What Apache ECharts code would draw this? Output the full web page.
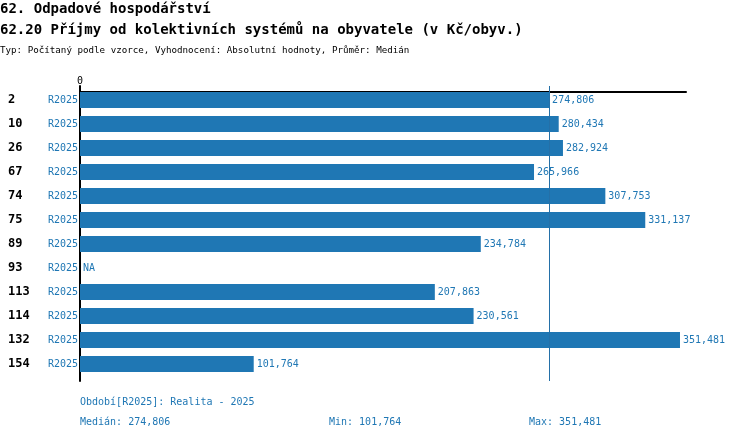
<!DOCTYPE html>
<html>
<head>
<meta charset="utf-8">
<script src="https://cdn.jsdelivr.net/npm/echarts@6/dist/echarts.min.js"></script>
<style>html,body{margin:0;padding:0;background:#fff;}#c{width:750px;height:440px;}</style>
</head>
<body>
<div id="c"></div>
<script>
const codes = ['2','10','26','67','74','75','89','93','113','114','132','154'];
const periods = ['R2025','R2025','R2025','R2025','R2025','R2025','R2025','R2025','R2025','R2025','R2025','R2025'];
const values = [274.806, 280.434, 282.924, 265.966, 307.753, 331.137, 234.784, null, 207.863, 230.561, 351.481, 101.764];
const titleMain = '62. Odpadové hospodářství';
const titleSub = '62.20 Příjmy od kolektivních systémů na obyvatele (v Kč/obyv.)';
const titleInfo = 'Typ: Počítaný podle vzorce, Vyhodnocení: Absolutní hodnoty, Průměr: Medián';
const periodNote = 'Období[R2025]: Realita - 2025';
const axisMax = 355;

const FONT = '"DejaVu Sans Mono", "Liberation Mono", monospace';
const BLUE = '#1f77b4';
const fmt = v => v.toFixed(3).replace('.', ',');

const valid = values.filter(v => v !== null).sort((a, b) => a - b);
const median = valid.length % 2 ? valid[(valid.length - 1) / 2] : (valid[valid.length/2 - 1] + valid[valid.length/2]) / 2;
const vmin = valid[0], vmax = valid[valid.length - 1];
const naData = values.map(v => v === null ? 0 : null);

const chart = echarts.init(document.getElementById('c'));
const tStyle = (size, bold, color) => ({fontFamily: FONT, fontSize: size, fontWeight: bold ? 'bold' : 'normal', color: color, lineHeight: Math.round(size) + 2});
chart.setOption({
  animation: false,
  backgroundColor: '#fff',
  title: [
    {text: titleMain, left: 0, top: 1, padding: 0, textStyle: tStyle(14, true, '#000')},
    {text: titleSub, left: 0, top: 22, padding: 0, textStyle: tStyle(14, true, '#000')},
    {text: titleInfo, left: 0, top: 45, padding: 0, textStyle: tStyle(9.2, false, '#000')},
    {text: periodNote, left: 80, top: 396, padding: 0, textStyle: tStyle(10, false, BLUE)},
    {text: 'Medián: ' + fmt(median), left: 80, top: 416, padding: 0, textStyle: tStyle(10, false, BLUE)},
    {text: 'Min: ' + fmt(vmin), left: 329, top: 416, padding: 0, textStyle: tStyle(10, false, BLUE)},
    {text: 'Max: ' + fmt(vmax), left: 529, top: 416, padding: 0, textStyle: tStyle(10, false, BLUE)}
  ],
  grid: [
    {left: 80, top: 88, width: 606, height: 288, containLabel: false},
    {left: 80, top: 86, width: 606, height: 295, containLabel: false}
  ],
  xAxis: [
    {
      gridIndex: 0, type: 'value', position: 'top', min: 0, max: axisMax, interval: axisMax, offset: -4,
      axisLine: {show: true, lineStyle: {color: '#000', width: 2}},
      axisTick: {show: false},
      splitLine: {show: false},
      axisLabel: {show: true, margin: 6, fontFamily: FONT, fontSize: 10, color: '#000',
        formatter: v => v === 0 ? '0' : ''}
    },
    {gridIndex: 1, type: 'value', min: 0, max: axisMax, show: false}
  ],
  yAxis: [
    {
      gridIndex: 0, type: 'category', data: codes, inverse: true,
      axisLine: {show: false}, axisTick: {show: false}, splitLine: {show: false},
      axisLabel: {
        margin: 2, align: 'right',
        formatter: (v, i) => '{a|' + v + '}{b|' + periods[i] + '}',
        rich: {
          a: {width: 38, align: 'left', fontFamily: FONT, fontSize: 12, fontWeight: 'bold', color: '#000'},
          b: {width: 32, align: 'right', fontFamily: FONT, fontSize: 10, color: BLUE}
        }
      }
    },
    {
      gridIndex: 1, type: 'value', min: 0, max: 1,
      axisLine: {show: true, onZero: false, lineStyle: {color: '#000', width: 2}},
      axisTick: {show: false}, axisLabel: {show: false}, splitLine: {show: false}
    }
  ],
  series: [
    {
      type: 'bar', xAxisIndex: 0, yAxisIndex: 0, data: values, barWidth: 16, barGap: '-100%',
      itemStyle: {color: BLUE},
      label: {show: true, position: 'right', distance: 3, fontFamily: FONT, fontSize: 10, color: BLUE,
        formatter: p => fmt(p.value)}
    },
    {
      type: 'bar', xAxisIndex: 0, yAxisIndex: 0, data: naData, barWidth: 16, barGap: '-100%',
      itemStyle: {color: BLUE},
      label: {show: true, position: 'right', distance: 3, fontFamily: FONT, fontSize: 10, color: BLUE,
        formatter: () => 'NA'}
    },
    {
      type: 'line', xAxisIndex: 1, yAxisIndex: 1, data: [], silent: true,
      markLine: {
        silent: true, symbol: 'none', label: {show: false},
        lineStyle: {color: '#2470a8', width: 1, type: 'solid', opacity: 1},
        data: [{xAxis: median}]
      }
    }
  ]
});
</script>
</body>
</html>
